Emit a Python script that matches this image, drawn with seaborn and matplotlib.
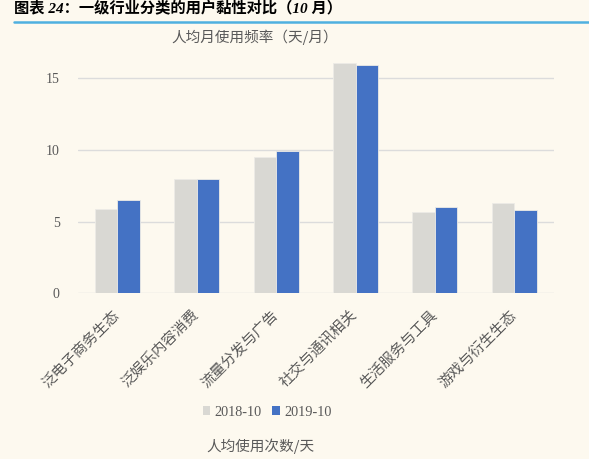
import matplotlib
matplotlib.use("Agg")
import matplotlib.pyplot as plt
import seaborn as sns
import pandas as pd
from matplotlib.patches import Patch
from matplotlib.lines import Line2D

categories = ['泛电子商务生态', '泛娱乐内容消费', '流量分发与广告', '社交与通讯相关', '生活服务与工具', '游戏与衍生生态']
series_names = ['2018-10', '2019-10']
v2018 = [5.9, 8.0, 9.5, 16.05, 5.7, 6.3]
v2019 = [6.5, 8.0, 9.9, 15.95, 6.0, 5.8]
yticks = [0, 5, 10, 15]

title = '图表 24：一级行业分类的用户黏性对比（10 月）'
subtitle = '人均月使用频率（天/月）'
bottom_text = '人均使用次数/天'

BG = '#FDF9EF'
GRAY = '#D9D8D3'
BLUE = '#4472C4'
TXT = '#595959'
CJK = ['Noto Sans CJK SC']
SERIF = ['Liberation Serif', 'Noto Sans CJK SC']

sns.set_theme(style='white')
plt.rcParams['font.family'] = SERIF

df = pd.DataFrame({
    'cat': categories * 2,
    'series': [series_names[0]] * len(categories) + [series_names[1]] * len(categories),
    'val': v2018 + v2019,
})

fig = plt.figure(figsize=(5.89, 4.59), dpi=100, facecolor=BG)
ax = fig.add_axes([77.7 / 589, 1 - 293.3 / 459, (554 - 77.7) / 589, (293.3 - 56.7) / 459])
ax.set_facecolor(BG)

sns.barplot(data=df, x='cat', y='val', hue='series', palette=[GRAY, BLUE], saturation=1,
            width=0.567, gap=0, ax=ax, legend=False, edgecolor='#EDEBE6', linewidth=0.6,
            zorder=3)

ax.set_ylim(0, 16.5)
ax.set_xlim(-0.5, len(categories) - 0.5)
ax.set_yticks(yticks)
ax.set_yticklabels([str(t) for t in yticks], fontsize=10, color=TXT, family=SERIF)
ax.yaxis.grid(True, color='#DCDCDC', linewidth=1.0, zorder=0)
ax.set_axisbelow(True)
for s in ax.spines.values():
    s.set_visible(False)
ax.tick_params(axis='both', length=0)
ax.tick_params(axis='y', pad=13)
ax.tick_params(axis='x', pad=14)
ax.set_xticks(range(len(categories)))
ax.set_xticklabels(categories, rotation=45, ha='right', va='center', rotation_mode='anchor',
                   fontsize=10.5, color=TXT, family=CJK)
ax.set_xlabel('')
ax.set_ylabel('')

# Title and blue rule
fig.text(14 / 589, 1 - 8 / 459, title, fontsize=11, fontweight='bold', style='italic',
         color='black', family=SERIF, ha='left', va='center')
fig.add_artist(Line2D([14 / 589, 1.0], [1 - 21.7 / 459] * 2, color='#4FB0E0', linewidth=1.8,
                      transform=fig.transFigure))

fig.text(255 / 589, 1 - 37 / 459, subtitle, fontsize=10.5, color=TXT, family=CJK,
         ha='center', va='center')
fig.text(260 / 589, 1 - 446 / 459, bottom_text, fontsize=10.5, color=TXT, family=CJK,
         ha='center', va='center')

handles = [Patch(facecolor=GRAY, edgecolor='none'), Patch(facecolor=BLUE, edgecolor='none')]
leg = fig.legend(handles, series_names, loc='center', bbox_to_anchor=(267 / 589, 1 - 412 / 459),
                 ncol=2, frameon=False, handlelength=0.55, handleheight=0.55,
                 handletextpad=0.3, columnspacing=0.7, prop={'family': SERIF, 'size': 10.3})
for t in leg.get_texts():
    t.set_color(TXT)

fig.savefig('out.png', dpi=100, facecolor=BG)
